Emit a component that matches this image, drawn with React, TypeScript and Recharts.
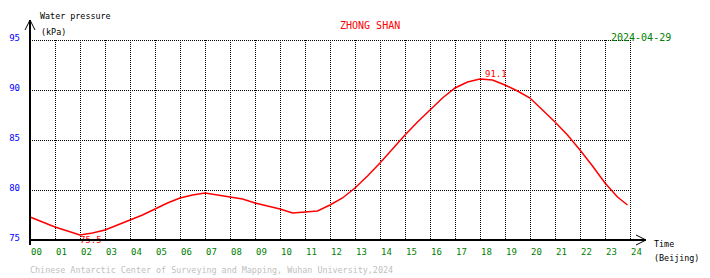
import React from 'react';
import { LineChart, Line, XAxis, YAxis, CartesianGrid } from 'recharts';

const hours = [
  0, 0.5, 1, 1.5, 2, 2.5, 3, 3.5, 4, 4.5, 5, 5.5, 6, 6.5, 7, 7.5, 8, 8.5, 9, 9.5,
  10, 10.5, 11, 11.5, 12, 12.5, 13, 13.5, 14, 14.5, 15, 15.5, 16, 16.5, 17, 17.5,
  18, 18.5, 19, 19.5, 20, 20.5, 21, 21.5, 22, 22.5, 23, 23.5, 23.9,
];
const pressure = [
  77.3, 76.8, 76.3, 75.9, 75.5, 75.7, 76.0, 76.5, 77.0, 77.5, 78.1, 78.7, 79.2, 79.5, 79.7, 79.5,
  79.3, 79.1, 78.7, 78.4, 78.1, 77.7, 77.8, 77.9, 78.5, 79.2, 80.2, 81.4, 82.7, 84.1, 85.5,
  86.8, 88.0, 89.2, 90.2, 90.8, 91.1, 91.0, 90.5, 89.9, 89.2, 88.0, 86.8, 85.5, 84.0, 82.4,
  80.7, 79.3, 78.5,
];
const xTicks = [0, 1, 2, 3, 4, 5, 6, 7, 8, 9, 10, 11, 12, 13, 14, 15, 16, 17, 18, 19, 20, 21, 22, 23, 24];
const yTicks = [75, 80, 85, 90, 95];
const stationName = 'ZHONG SHAN';
const dateLabel = '2024-04-29';
const yTitle = 'Water pressure';
const yUnit = '(kPa)';
const xTitle = 'Time';
const xUnit = '(Beijing)';
const footer = 'Chinese Antarctic Center of Surveying and Mapping, Wuhan University,2024';

const data = hours.map((h, i) => ({ h, p: pressure[i] }));
const maxIdx = pressure.indexOf(Math.max(...pressure));
const minIdx = pressure.indexOf(Math.min(...pressure));

const FONT = '"DejaVu Sans Mono", "Liberation Mono", monospace';

const XTick = (props: any) => {
  const { x, y, payload } = props;
  const label = String(payload.value).padStart(2, '0');
  return (
    <text x={x + 1} y={y + 15} fill="#008000" fontSize={9} fontFamily={FONT} textAnchor="start">
      {label}
    </text>
  );
};

const YTick = (props: any) => {
  const { x, y, payload } = props;
  return (
    <text x={x} y={y + 0.5} fill="#0000ff" fontSize={9} fontFamily={FONT} textAnchor="end">
      {payload.value}
    </text>
  );
};

const PointLabel = (props: any) => {
  const { x, y, index, value } = props;
  if (index === maxIdx) {
    return (
      <text x={x + 5} y={y - 2} fill="#ff0000" fontSize={9} fontFamily={FONT} textAnchor="start">
        {Number(value).toFixed(1)}
      </text>
    );
  }
  if (index === minIdx) {
    return (
      <text x={x} y={y + 8} fill="#ff0000" fontSize={9} fontFamily={FONT} textAnchor="start">
        {Number(value).toFixed(1)}
      </text>
    );
  }
  return <g />;
};

export default function App() {
  return (
    <div style={{ position: 'absolute', left: 0, top: 0, width: 710, height: 278, background: '#fff' }}>
      <LineChart
        width={710}
        height={278}
        data={data}
        margin={{ top: 40, right: 80, bottom: 8, left: 0 }}
      >
        <CartesianGrid
          stroke="#000"
          strokeDasharray="1 1"
          shapeRendering="crispEdges"
        />
        <XAxis
          dataKey="h"
          type="number"
          domain={[0, 24]}
          ticks={xTicks}
          height={30}
          axisLine={false}
          tickLine={false}
          tickSize={0}
          tickMargin={0}
          tick={<XTick />}
          interval={0}
        />
        <YAxis
          type="number"
          domain={[75, 95]}
          ticks={yTicks}
          width={30}
          axisLine={false}
          tickLine={false}
          tickSize={0}
          tickMargin={10}
          tick={<YTick />}
          interval={0}
        />
        <Line
          dataKey="p"
          type="linear"
          stroke="#ff0000"
          strokeWidth={1.5}
          dot={false}
          isAnimationActive={false}
          label={<PointLabel />}
        />
      </LineChart>
      <svg
        width={710}
        height={278}
        style={{ position: 'absolute', left: 0, top: 0, pointerEvents: 'none' }}
        fontFamily={FONT}
      >
        <line x1={30} y1={20} x2={30} y2={245} stroke="#000" strokeWidth={2} />
        <polyline points="25,30 30,20 35,30" fill="none" stroke="#000" strokeWidth={1} />
        <line x1={30} y1={240} x2={646} y2={240} stroke="#000" strokeWidth={2} />
        <polyline points="636,235 646,240 636,245" fill="none" stroke="#000" strokeWidth={1} />
        <text x={40} y={19} fontSize={8.4} fill="#000">{yTitle}</text>
        <text x={41} y={35} fontSize={8.4} fill="#000">{yUnit}</text>
        <text x={340} y={29} fontSize={10} fill="#ff0000">{stationName}</text>
        <text x={611} y={41} fontSize={10} fill="#008000">{dateLabel}</text>
        <text x={654} y={247} fontSize={8.4} fill="#000">{xTitle}</text>
        <text x={654} y={261} fontSize={8.4} fill="#000">{xUnit}</text>
        <text x={30} y={273} fontSize={8.4} fill="#c0c0c0">{footer}</text>
      </svg>
    </div>
  );
}
